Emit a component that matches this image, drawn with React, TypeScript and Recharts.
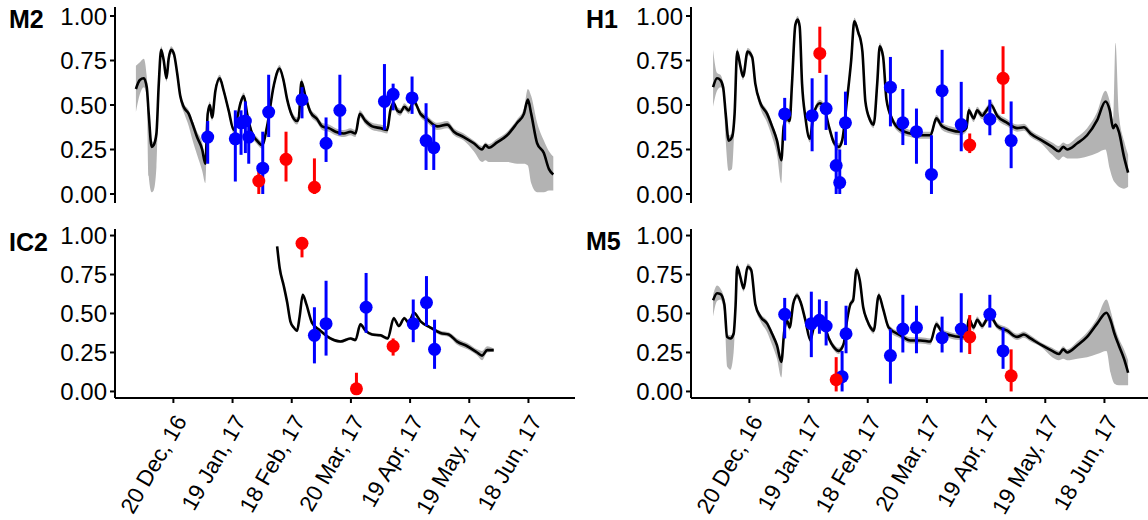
import { ComposedChart, Line, Area, Scatter, ErrorBar, XAxis, YAxis } from "recharts";

// x = days since 20 Dec 2016
const dateTicks = [0, 30, 60, 90, 120, 150, 180];
const dateLabels = ["20 Dec, 16", "19 Jan, 17", "18 Feb, 17", "20 Mar, 17", "19 Apr, 17", "19 May, 17", "18 Jun, 17"];
const valueTicks = [0, 0.25, 0.5, 0.75, 1];

// ---- M2 ----
const m2Days = [-19, -17, -15, -13.5, -12.5, -11, -10, -8.6, -7.4, -6.2, -4.9, -3.5, -2.4, -1.2, 0.2, 1.9, 3.5, 5.2, 7.8, 9.5, 12, 14.6, 16.2, 17.4, 18.5, 19.6, 21.3, 23.5, 25.5, 28, 30.6, 32.6, 34, 35.7, 37.4, 39.9, 42.4, 45, 47.5, 50.9, 53.8, 55.8, 57.7, 59.8, 62.7, 63.6, 64.9, 66.9, 69.5, 72.9, 75.4, 78.8, 82.2, 86.4, 89.8, 92.3, 94.5, 97.4, 100.8, 105, 108.4, 110, 111.7, 113.4, 115.1, 117.1, 119.3, 121.9, 125.3, 128.6, 133.7, 138.8, 142.2, 147.2, 152.3, 156.5, 158.2, 159.9, 164.1, 169.2, 174.3, 177.7, 179.7, 181.4, 184.4, 187.8, 190.4, 192.6];
const m2Mean = [0.59, 0.64, 0.65, 0.6, 0.45, 0.265, 0.275, 0.34, 0.62, 0.81, 0.75, 0.65, 0.76, 0.81, 0.79, 0.68, 0.55, 0.49, 0.45, 0.4, 0.32, 0.25, 0.17, 0.45, 0.5, 0.43, 0.58, 0.65, 0.58, 0.47, 0.36, 0.44, 0.51, 0.55, 0.45, 0.34, 0.3, 0.275, 0.38, 0.61, 0.705, 0.64, 0.53, 0.45, 0.41, 0.43, 0.63, 0.55, 0.46, 0.42, 0.38, 0.37, 0.35, 0.34, 0.35, 0.34, 0.45, 0.41, 0.38, 0.37, 0.36, 0.47, 0.51, 0.47, 0.46, 0.49, 0.47, 0.52, 0.45, 0.42, 0.38, 0.39, 0.35, 0.32, 0.285, 0.25, 0.275, 0.26, 0.29, 0.33, 0.4, 0.45, 0.53, 0.45, 0.285, 0.23, 0.14, 0.11];
const m2Lo = [0.46, 0.56, 0.6, 0.55, 0.1, 0.01, 0.02, 0.15, 0.6, 0.79, 0.73, 0.63, 0.74, 0.79, 0.77, 0.66, 0.52, 0.46, 0.38, 0.31, 0.22, 0.13, 0.06, 0.43, 0.48, 0.41, 0.56, 0.63, 0.56, 0.45, 0.34, 0.42, 0.49, 0.53, 0.43, 0.32, 0.28, 0.255, 0.36, 0.59, 0.685, 0.62, 0.51, 0.43, 0.39, 0.41, 0.61, 0.53, 0.44, 0.4, 0.36, 0.35, 0.33, 0.32, 0.33, 0.32, 0.43, 0.39, 0.36, 0.35, 0.34, 0.45, 0.49, 0.45, 0.44, 0.47, 0.45, 0.5, 0.43, 0.4, 0.36, 0.37, 0.33, 0.3, 0.24, 0.18, 0.19, 0.18, 0.18, 0.18, 0.17, 0.17, 0.16, 0.06, 0.01, 0.01, 0.02, 0.02];
const m2Hi = [0.72, 0.74, 0.76, 0.66, 0.5, 0.3, 0.29, 0.36, 0.64, 0.83, 0.77, 0.67, 0.78, 0.83, 0.81, 0.7, 0.57, 0.51, 0.47, 0.42, 0.35, 0.29, 0.2, 0.47, 0.52, 0.45, 0.6, 0.67, 0.6, 0.49, 0.38, 0.46, 0.53, 0.57, 0.47, 0.36, 0.32, 0.295, 0.4, 0.63, 0.725, 0.66, 0.55, 0.47, 0.43, 0.45, 0.65, 0.57, 0.48, 0.44, 0.4, 0.39, 0.37, 0.36, 0.37, 0.36, 0.47, 0.43, 0.4, 0.39, 0.38, 0.49, 0.53, 0.49, 0.48, 0.51, 0.49, 0.54, 0.47, 0.44, 0.4, 0.41, 0.37, 0.34, 0.3, 0.27, 0.29, 0.28, 0.31, 0.35, 0.42, 0.48, 0.59, 0.55, 0.4, 0.3, 0.24, 0.21];
const m2BlueDays = [17.4, 31.4, 34.3, 36.5, 38.2, 45.3, 48.3, 65.2, 77.4, 84.4, 107, 111.4, 121, 128.1, 132];
const m2BlueVal = [0.32, 0.31, 0.4, 0.41, 0.32, 0.145, 0.46, 0.53, 0.285, 0.47, 0.52, 0.56, 0.54, 0.3, 0.26];
const m2BlueLo = [0.17, 0.07, 0.22, 0.23, 0.17, 0, 0.32, 0.425, 0.18, 0.33, 0.36, 0.47, 0.45, 0.135, 0.135];
const m2BlueHi = [0.41, 0.47, 0.47, 0.52, 0.41, 0.35, 0.67, 0.6, 0.43, 0.67, 0.73, 0.62, 0.66, 0.51, 0.39];
const m2RedDays = [43.3, 57.1, 71.5];
const m2RedVal = [0.073, 0.195, 0.038];
const m2RedLo = [0, 0.07, 0];
const m2RedHi = [0.16, 0.35, 0.2];

// ---- H1 ----
const h1Days = [-18.4, -16.4, -14.7, -13.3, -12, -10.5, -8.8, -7.5, -6.2, -4.6, -3.2, -0.9, 1.4, 3, 5.6, 9, 11.5, 14, 16.2, 17.4, 19.1, 20.4, 21.6, 23.3, 24.5, 25.5, 26.7, 28.4, 30.6, 32.6, 35.7, 37.7, 40.3, 42.8, 45.3, 47, 49.5, 51.6, 53.2, 55.4, 56.3, 57.3, 58.8, 61, 63, 64.8, 66.1, 67.8, 69.5, 72.4, 76.6, 81.6, 86.7, 91.8, 94.8, 97.7, 101.9, 107, 110, 111.2, 113.7, 115.5, 118, 120.2, 122.5, 125.6, 130.7, 135.7, 139.2, 142.5, 148.4, 153.5, 156.9, 159.1, 161.1, 166.2, 171.2, 176.3, 180.5, 182.7, 184.4, 185.6, 187.3, 189.9, 192];
const h1Mean = [0.6, 0.65, 0.64, 0.6, 0.45, 0.3, 0.32, 0.45, 0.8, 0.72, 0.66, 0.8, 0.77, 0.62, 0.51, 0.45, 0.38, 0.3, 0.19, 0.38, 0.425, 0.41, 0.62, 0.95, 0.98, 0.94, 0.62, 0.43, 0.31, 0.45, 0.51, 0.49, 0.38, 0.29, 0.265, 0.3, 0.53, 0.75, 0.97, 0.9, 0.87, 0.8, 0.52, 0.42, 0.39, 0.62, 0.83, 0.77, 0.53, 0.42, 0.36, 0.34, 0.33, 0.33, 0.425, 0.38, 0.36, 0.35, 0.37, 0.47, 0.425, 0.47, 0.44, 0.47, 0.5, 0.44, 0.4, 0.37, 0.375, 0.34, 0.3, 0.265, 0.24, 0.265, 0.25, 0.285, 0.33, 0.415, 0.52, 0.47, 0.37, 0.39, 0.35, 0.21, 0.12];
const h1Lo = [0.49, 0.58, 0.6, 0.57, 0.3, 0.13, 0.14, 0.4, 0.78, 0.7, 0.64, 0.78, 0.75, 0.6, 0.48, 0.4, 0.32, 0.22, 0.06, 0.36, 0.405, 0.39, 0.6, 0.93, 0.96, 0.92, 0.6, 0.41, 0.29, 0.43, 0.49, 0.47, 0.36, 0.27, 0.245, 0.28, 0.51, 0.73, 0.95, 0.88, 0.85, 0.78, 0.5, 0.4, 0.37, 0.6, 0.81, 0.75, 0.51, 0.4, 0.34, 0.32, 0.31, 0.31, 0.405, 0.36, 0.34, 0.33, 0.35, 0.45, 0.405, 0.45, 0.42, 0.45, 0.48, 0.42, 0.38, 0.35, 0.355, 0.32, 0.28, 0.22, 0.19, 0.21, 0.2, 0.2, 0.21, 0.23, 0.25, 0.14, 0.08, 0.06, 0.04, 0.03, 0.04];
const h1Hi = [0.81, 0.68, 0.67, 0.62, 0.47, 0.33, 0.34, 0.47, 0.82, 0.74, 0.68, 0.82, 0.79, 0.64, 0.53, 0.47, 0.4, 0.32, 0.21, 0.4, 0.445, 0.43, 0.64, 0.97, 1.0, 0.96, 0.64, 0.45, 0.33, 0.47, 0.53, 0.51, 0.4, 0.31, 0.285, 0.32, 0.55, 0.77, 0.99, 0.92, 0.89, 0.82, 0.54, 0.44, 0.41, 0.64, 0.85, 0.79, 0.55, 0.44, 0.38, 0.36, 0.35, 0.35, 0.445, 0.4, 0.38, 0.37, 0.39, 0.49, 0.445, 0.49, 0.46, 0.49, 0.52, 0.46, 0.42, 0.39, 0.395, 0.36, 0.32, 0.29, 0.27, 0.29, 0.28, 0.32, 0.37, 0.46, 0.58, 0.52, 0.42, 0.85, 0.45, 0.3, 0.22];
const h1BlueDays = [17.9, 31.8, 38.9, 44, 45.8, 48.7, 71.5, 77.8, 84.7, 92.3, 97.7, 107.4, 121.9, 132.7];
const h1BlueVal = [0.45, 0.44, 0.48, 0.16, 0.064, 0.4, 0.6, 0.4, 0.35, 0.11, 0.58, 0.39, 0.42, 0.3];
const h1BlueLo = [0.3, 0.24, 0.36, 0, 0, 0.275, 0.38, 0.275, 0.17, 0, 0.4, 0.24, 0.33, 0.145];
const h1BlueHi = [0.54, 0.65, 0.67, 0.35, 0.25, 0.575, 0.77, 0.59, 0.48, 0.33, 0.81, 0.63, 0.53, 0.52];
const h1RedDays = [35.7, 111.7, 128.6];
const h1RedVal = [0.79, 0.275, 0.65];
const h1RedLo = [0.68, 0.23, 0.45];
const h1RedHi = [0.94, 0.34, 0.83];

// ---- IC2 ----
const ic2Days = [52.6, 53.9, 55.9, 57.7, 59.3, 61, 62.7, 64, 65.6, 67.4, 70.3, 74.5, 79.6, 84.7, 89.8, 92.3, 94.8, 97.4, 100.8, 105, 108.7, 111.7, 114.3, 117.1, 119.3, 121.9, 125.3, 130.3, 135.4, 139.6, 143.9, 149, 154, 156.5, 159.1, 162.4];
const ic2Mean = [0.93, 0.79, 0.68, 0.57, 0.45, 0.41, 0.39, 0.48, 0.62, 0.56, 0.44, 0.39, 0.34, 0.32, 0.34, 0.33, 0.43, 0.39, 0.365, 0.36, 0.34, 0.47, 0.42, 0.47, 0.44, 0.505, 0.45, 0.41, 0.375, 0.365, 0.32, 0.29, 0.25, 0.23, 0.265, 0.265];
const ic2Lo = [0.92, 0.78, 0.67, 0.56, 0.44, 0.4, 0.38, 0.47, 0.61, 0.55, 0.43, 0.38, 0.33, 0.31, 0.33, 0.32, 0.42, 0.38, 0.355, 0.35, 0.33, 0.46, 0.41, 0.46, 0.43, 0.495, 0.44, 0.4, 0.36, 0.35, 0.3, 0.27, 0.23, 0.2, 0.25, 0.255];
const ic2Hi = [0.94, 0.8, 0.69, 0.58, 0.46, 0.42, 0.4, 0.49, 0.63, 0.57, 0.45, 0.4, 0.35, 0.33, 0.35, 0.34, 0.44, 0.4, 0.375, 0.37, 0.35, 0.48, 0.43, 0.48, 0.45, 0.515, 0.46, 0.42, 0.39, 0.38, 0.34, 0.31, 0.27, 0.26, 0.29, 0.275];
const ic2BlueDays = [71.5, 77.4, 97.7, 121.6, 128.3, 132.4];
const ic2BlueVal = [0.36, 0.435, 0.54, 0.435, 0.57, 0.27];
const ic2BlueLo = [0.18, 0.23, 0.376, 0.316, 0.42, 0.145];
const ic2BlueHi = [0.54, 0.71, 0.76, 0.59, 0.74, 0.46];
const ic2RedDays = [65.2, 92.8, 111.4];
const ic2RedVal = [0.95, 0.017, 0.29];
const ic2RedLo = [0.86, 0, 0.23];
const ic2RedHi = [0.99, 0.12, 0.34];

// ---- M5 ----
const m5Days = [-18.4, -16.4, -14.7, -12.7, -11.3, -9.6, -8, -7, -6.2, -4.6, -2.9, -0.9, 0.9, 3, 5.6, 9, 11.5, 14, 16.2, 17.7, 19.1, 20.4, 22.2, 24.2, 25.9, 28.4, 30.9, 32.6, 35.1, 37.7, 40.3, 42.8, 45.3, 47.8, 49.5, 51.2, 52.6, 54.3, 56, 57.7, 59.7, 61.4, 63, 65.6, 67.8, 70.6, 76.6, 81.6, 86.7, 91.8, 94.8, 97.7, 101.9, 107, 110, 111.2, 113.7, 115.5, 118, 120.2, 122.2, 125.6, 130.7, 135.7, 139.2, 142.5, 148.4, 153.5, 156.9, 159.1, 161.1, 166.2, 171.2, 176.3, 181, 183.1, 185.1, 187.3, 189.9, 192];
const m5Mean = [0.585, 0.63, 0.625, 0.56, 0.35, 0.34, 0.37, 0.55, 0.8, 0.735, 0.66, 0.8, 0.78, 0.56, 0.48, 0.435, 0.37, 0.295, 0.19, 0.39, 0.455, 0.41, 0.56, 0.615, 0.575, 0.456, 0.33, 0.41, 0.48, 0.435, 0.34, 0.284, 0.26, 0.305, 0.456, 0.56, 0.585, 0.78, 0.71, 0.54, 0.456, 0.41, 0.39, 0.617, 0.53, 0.41, 0.36, 0.327, 0.327, 0.32, 0.43, 0.38, 0.36, 0.35, 0.35, 0.467, 0.41, 0.46, 0.42, 0.46, 0.48, 0.42, 0.39, 0.35, 0.365, 0.34, 0.295, 0.26, 0.24, 0.27, 0.25, 0.295, 0.35, 0.435, 0.505, 0.456, 0.37, 0.295, 0.21, 0.12];
const m5Lo = [0.48, 0.58, 0.59, 0.5, 0.16, 0.14, 0.25, 0.52, 0.78, 0.715, 0.64, 0.78, 0.76, 0.54, 0.45, 0.38, 0.3, 0.21, 0.09, 0.37, 0.435, 0.39, 0.54, 0.595, 0.555, 0.436, 0.31, 0.39, 0.46, 0.415, 0.32, 0.264, 0.24, 0.285, 0.436, 0.54, 0.565, 0.76, 0.69, 0.52, 0.436, 0.39, 0.37, 0.597, 0.51, 0.39, 0.34, 0.307, 0.307, 0.3, 0.41, 0.36, 0.34, 0.33, 0.33, 0.447, 0.39, 0.44, 0.4, 0.44, 0.46, 0.4, 0.37, 0.33, 0.345, 0.32, 0.28, 0.22, 0.2, 0.21, 0.2, 0.21, 0.22, 0.24, 0.26, 0.12, 0.05, 0.04, 0.04, 0.04];
const m5Hi = [0.62, 0.68, 0.66, 0.59, 0.37, 0.36, 0.39, 0.57, 0.82, 0.755, 0.68, 0.82, 0.8, 0.58, 0.5, 0.455, 0.39, 0.31, 0.21, 0.41, 0.475, 0.43, 0.58, 0.635, 0.595, 0.476, 0.35, 0.43, 0.5, 0.455, 0.36, 0.304, 0.28, 0.325, 0.476, 0.58, 0.605, 0.8, 0.73, 0.56, 0.476, 0.43, 0.41, 0.637, 0.55, 0.43, 0.38, 0.347, 0.347, 0.34, 0.45, 0.4, 0.38, 0.37, 0.37, 0.487, 0.43, 0.48, 0.44, 0.48, 0.5, 0.44, 0.41, 0.37, 0.385, 0.36, 0.31, 0.28, 0.26, 0.29, 0.27, 0.32, 0.38, 0.47, 0.59, 0.52, 0.42, 0.34, 0.27, 0.2];
const m5BlueDays = [17.9, 31.4, 35.5, 38.9, 47, 49, 71.5, 77.8, 84.7, 97.7, 107.4, 121.9, 128.6];
const m5BlueVal = [0.495, 0.435, 0.456, 0.42, 0.095, 0.37, 0.23, 0.4, 0.41, 0.345, 0.4, 0.495, 0.26];
const m5BlueLo = [0.34, 0.22, 0.37, 0.295, 0, 0.245, 0.05, 0.25, 0.245, 0.25, 0.25, 0.41, 0.145];
const m5BlueHi = [0.6, 0.64, 0.59, 0.58, 0.26, 0.55, 0.4, 0.62, 0.55, 0.48, 0.63, 0.62, 0.41];
const m5RedDays = [44, 111.7, 132.7];
const m5RedVal = [0.075, 0.35, 0.1];
const m5RedLo = [0, 0.24, 0];
const m5RedHi = [0.22, 0.49, 0.27];

const FONT = "'Liberation Sans', Arial, sans-serif";
const BLUE = "#0000ff";
const RED = "#ff0000";

function track(days: number[], mean: number[], lo: number[], hi: number[]) {
  return days.map((d, i) => ({ day: d, mean: mean[i], band: [lo[i], hi[i]] }));
}

function obs(days: number[], val: number[], lo: number[], hi: number[]) {
  return days.map((d, i) => ({ day: d, val: val[i], err: [val[i] - lo[i], hi[i] - val[i]] }));
}

const DateTick = (props: any) => {
  const { x, y, payload } = props;
  const label = dateLabels[dateTicks.indexOf(payload.value)];
  return (
    <text
      transform={`translate(${x + 14},${y + 18}) rotate(-60)`}
      textAnchor="end"
      fontSize={22.5}
      fontFamily={FONT}
      fill="#000"
    >
      {label}
    </text>
  );
};

function dot(color: string) {
  return (p: any) => <circle cx={p.cx} cy={p.cy} r={6.5} fill={color} />;
}

function Panel({ left, top, bottom, data, blue, red }: any) {
  const height = bottom ? 300 : 210;
  const margin = bottom
    ? { top: 9, right: 5, bottom: 13, left: 55 }
    : { top: 7, right: 5, bottom: 7, left: 55 };
  const yDomain = bottom ? [-0.042, 1.042] : [-0.0506, 1.0506];
  return (
    <div style={{ position: "absolute", left, top }}>
      <ComposedChart width={580} height={height} data={data} margin={margin}>
        <XAxis
          dataKey="day"
          type="number"
          domain={[-29.6, 203.6]}
          allowDataOverflow
          ticks={dateTicks}
          height={bottom ? 109 : 0}
          tick={bottom ? <DateTick /> : false}
          tickLine={bottom ? { stroke: "#000", strokeWidth: 2 } : false}
          tickSize={5}
          tickMargin={0}
          interval={0}
          axisLine={{ stroke: "#000", strokeWidth: 2 }}
        />
        <YAxis
          type="number"
          domain={yDomain}
          allowDataOverflow
          ticks={valueTicks}
          tickFormatter={(v: number) => v.toFixed(2)}
          width={60}
          tickSize={5}
          tickMargin={3}
          tick={{ fill: "#000", fontSize: 24, fontFamily: FONT }}
          tickLine={{ stroke: "#000", strokeWidth: 2 }}
          axisLine={{ stroke: "#000", strokeWidth: 2 }}
        />
        <Area
          dataKey="band"
          type="monotone"
          stroke="none"
          fill="#b3b3b3"
          fillOpacity={1}
          isAnimationActive={false}
        />
        <Line
          dataKey="mean"
          type="monotone"
          stroke="#000"
          strokeWidth={2.6}
          dot={false}
          isAnimationActive={false}
        />
        <Scatter data={blue} dataKey="val" shape={dot(BLUE)} isAnimationActive={false}>
          <ErrorBar dataKey="err" direction="y" width={0} stroke={BLUE} strokeWidth={3} />
        </Scatter>
        <Scatter data={red} dataKey="val" shape={dot(RED)} isAnimationActive={false}>
          <ErrorBar dataKey="err" direction="y" width={0} stroke={RED} strokeWidth={3} />
        </Scatter>
      </ComposedChart>
    </div>
  );
}

export default function App() {
  return (
    <div
      style={{
        position: "absolute",
        left: 0,
        top: 0,
        width: 1148,
        height: 520,
        overflow: "hidden",
        background: "#fff",
      }}
    >
      <Panel
        left={0}
        top={0}
        data={track(m2Days, m2Mean, m2Lo, m2Hi)}
        blue={obs(m2BlueDays, m2BlueVal, m2BlueLo, m2BlueHi)}
        red={obs(m2RedDays, m2RedVal, m2RedLo, m2RedHi)}
      />
      <Panel
        left={576}
        top={0}
        data={track(h1Days, h1Mean, h1Lo, h1Hi)}
        blue={obs(h1BlueDays, h1BlueVal, h1BlueLo, h1BlueHi)}
        red={obs(h1RedDays, h1RedVal, h1RedLo, h1RedHi)}
      />
      <Panel
        left={0}
        top={220}
        bottom
        data={track(ic2Days, ic2Mean, ic2Lo, ic2Hi)}
        blue={obs(ic2BlueDays, ic2BlueVal, ic2BlueLo, ic2BlueHi)}
        red={obs(ic2RedDays, ic2RedVal, ic2RedLo, ic2RedHi)}
      />
      <Panel
        left={576}
        top={220}
        bottom
        data={track(m5Days, m5Mean, m5Lo, m5Hi)}
        blue={obs(m5BlueDays, m5BlueVal, m5BlueLo, m5BlueHi)}
        red={obs(m5RedDays, m5RedVal, m5RedLo, m5RedHi)}
      />
      <svg
        width={1148}
        height={520}
        style={{ position: "absolute", left: 0, top: 0, pointerEvents: "none" }}
      >
        <g fontFamily={FONT} fontWeight="bold" fontSize={25} fill="#000">
          <text x={9} y={28}>M2</text>
          <text x={586} y={28}>H1</text>
          <text x={9} y={251}>IC2</text>
          <text x={586} y={250}>M5</text>
        </g>
      </svg>
    </div>
  );
}
